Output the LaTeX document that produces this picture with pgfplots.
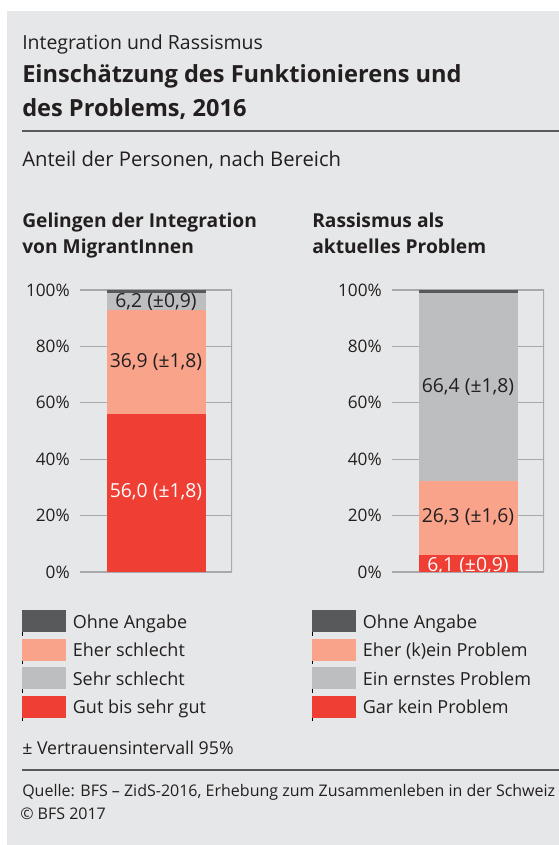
\documentclass[border=0pt]{standalone}
\usepackage{pgfplots}
\pgfplotsset{compat=1.18}
\usepackage{fontspec}
\setmainfont{Open Sans}
\definecolor{bg}{HTML}{E6E7E8}
\definecolor{cred}{HTML}{EF3E33}
\definecolor{csal}{HTML}{F8A38A}
\definecolor{clg}{HTML}{BCBEC0}
\definecolor{cdg}{HTML}{58595B}
\definecolor{gridc}{HTML}{A7A9AC}
\definecolor{txt}{HTML}{231F20}
\pgfplotsset{
  sq/.style={legend image code/.code={\path (0pt,-10pt) -- (0pt,9pt); \fill[#1] (0pt,-6.75pt) rectangle (32.25pt,9pt);}},
  myaxis/.style={
    anchor=south west, scale only axis, width=114pt, height=211.5pt,
    xmin=0, xmax=1, ymin=0, ymax=100,
    ybar stacked, bar width=74.25pt,
    axis line style={draw=none}, xtick=\empty, ytick={0,20,...,100},
    ymajorgrids, major grid style={draw=gridc, line width=0.8pt},
    major tick length=0pt,
    yticklabel={\pgfmathprintnumber{\tick}\%},
    yticklabel style={font=\fontsize{12.9}{14}\selectfont, text=txt, inner sep=0pt, xshift=-7.5pt},
    /pgf/number format/assume math mode=true,
    clip=true,
    legend cell align=left,
    legend style={draw=none, fill=none, inner sep=0pt, outer sep=0pt, anchor=north west,
      font=\fontsize{13.5}{16}\selectfont, text=txt,
      nodes={inner sep=0pt, text=txt},
      row sep=2pt,
      /tikz/every odd column/.append style={column sep=5.5pt}},
  },
}
\tikzset{lbl/.style={font=\fontsize{14.5}{16}\selectfont, inner sep=0pt}}
\begin{document}
\begin{tikzpicture}
\useasboundingbox (0pt,0pt) rectangle (419.25pt,633.75pt);
\fill[white] (0pt,0pt) rectangle (419.25pt,633.75pt);
\fill[bg] (5.25pt,0pt) rectangle (419.25pt,625.5pt);
\node[anchor=base west, inner sep=0pt, text=txt, font=\fontsize{14.6}{18}\selectfont] at (16.5pt,596.25pt) {Integration und Rassismus};
\node[anchor=base west, inner sep=0pt, text=txt, font=\fontsize{17.7}{20}\selectfont\bfseries] at (16.5pt,571.5pt) {Einschätzung des Funktionierens und};
\node[anchor=base west, inner sep=0pt, text=txt, font=\fontsize{17.7}{20}\selectfont\bfseries] at (16.5pt,546pt) {des Problems, 2016};
\draw[cdg, line width=1pt] (16.5pt,535.5pt) -- (419.25pt,535.5pt);
\node[anchor=base west, inner sep=0pt, text=txt, font=\fontsize{15.2}{18}\selectfont] at (16.5pt,508.5pt) {Anteil der Personen, nach Bereich};
\node[anchor=base west, inner sep=0pt, text=txt, font=\fontsize{14.4}{16}\selectfont\bfseries] at (16.5pt,462.75pt) {Gelingen der Integration};
\node[anchor=base west, inner sep=0pt, text=txt, font=\fontsize{14.4}{16}\selectfont\bfseries] at (16.5pt,443.25pt) {von MigrantInnen};
\node[anchor=base west, inner sep=0pt, text=txt, font=\fontsize{14.4}{16}\selectfont\bfseries] at (234pt,462.75pt) {Rassismus als};
\node[anchor=base west, inner sep=0pt, text=txt, font=\fontsize{14.4}{16}\selectfont\bfseries] at (234pt,443.25pt) {aktuelles Problem};

\begin{axis}[myaxis, at={(60pt,204.75pt)},
  legend style={at={(axis description cs:-0.38158,-0.13475)}}]
\addplot[fill=cred, draw=none, forget plot] coordinates {(0.5,56.0)};
\addplot[fill=csal, draw=none, forget plot] coordinates {(0.5,36.9)};
\addplot[fill=clg, draw=none, forget plot] coordinates {(0.5,6.2)};
\addplot[fill=cdg, draw=none, forget plot] coordinates {(0.5,0.9)};
\addlegendimage{sq=cdg}\addlegendentry{Ohne Angabe}
\addlegendimage{sq=csal}\addlegendentry{Eher schlecht}
\addlegendimage{sq=clg}\addlegendentry{Sehr schlecht}
\addlegendimage{sq=cred}\addlegendentry{Gut bis sehr gut}
\draw[gridc, line width=0.8pt] (rel axis cs:1,0) -- (rel axis cs:1,1);
\coordinate (a1) at (axis cs:0.5,28.5);
\coordinate (a2) at (axis cs:0.5,74.6);
\coordinate (a3) at (axis cs:0.5,95.9);
\end{axis}

\begin{axis}[myaxis, at={(294pt,204.75pt)},
  legend style={at={(axis description cs:-0.5263,-0.13475)}}]
\addplot[fill=cred, draw=none, forget plot] coordinates {(0.5,6.1)};
\addplot[fill=csal, draw=none, forget plot] coordinates {(0.5,26.3)};
\addplot[fill=clg, draw=none, forget plot] coordinates {(0.5,66.4)};
\addplot[fill=cdg, draw=none, forget plot] coordinates {(0.5,1.2)};
\addlegendimage{sq=cdg}\addlegendentry{Ohne Angabe}
\addlegendimage{sq=csal}\addlegendentry{Eher (k)ein Problem}
\addlegendimage{sq=clg}\addlegendentry{Ein ernstes Problem}
\addlegendimage{sq=cred}\addlegendentry{Gar kein Problem}
\draw[gridc, line width=0.8pt] (rel axis cs:1,0) -- (rel axis cs:1,1);
\coordinate (b1) at (axis cs:0.5,0.0);
\coordinate (b2) at (axis cs:0.5,19.6);
\coordinate (b3) at (axis cs:0.5,65.7);
\coordinate (c0) at (axis cs:0,0);
\coordinate (c1) at (axis cs:1,6.1);
\end{axis}

\node[lbl, text=white] at (a1) {56,0 (±1,8)};
\node[lbl, text=txt] at (a2) {36,9 (±1,8)};
\node[lbl, text=txt] at (a3) {6,2 (±0,9)};
\begin{scope}
\clip (c0) rectangle (c1);
\node[lbl, text=white, anchor=base] at (b1) {6,1 (±0,9)};
\end{scope}
\node[lbl, text=txt] at (b2) {26,3 (±1,6)};
\node[lbl, text=txt] at (b3) {66,4 (±1,8)};

\node[anchor=base west, inner sep=0pt, text=txt, font=\fontsize{13.3}{16}\selectfont] at (16.5pt,67.5pt) {± Vertrauensintervall 95\%};
\draw[cdg, line width=1pt] (16.5pt,56.25pt) -- (419.25pt,56.25pt);
\node[anchor=base west, inner sep=0pt, text=txt, font=\fontsize{12}{14}\selectfont] at (16.5pt,36.2pt) {Quelle: BFS – ZidS-2016, Erhebung zum Zusammenleben in der Schweiz};
\node[anchor=base west, inner sep=0pt, text=txt, font=\fontsize{12}{14}\selectfont] at (15pt,18.75pt) {© BFS 2017};
\end{tikzpicture}
\end{document}
